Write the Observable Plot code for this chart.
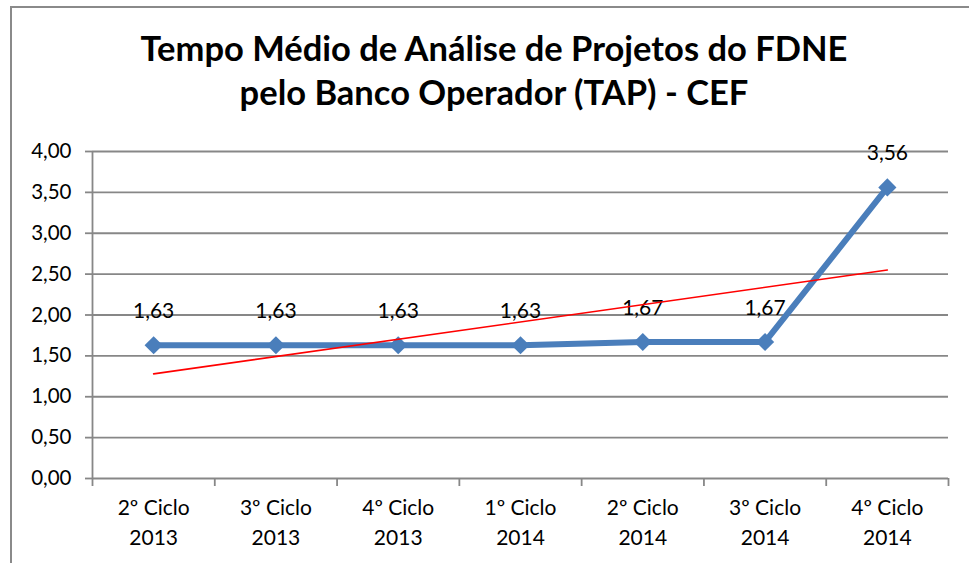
<!DOCTYPE html>
<html><head><meta charset="utf-8">
<script src="https://cdn.jsdelivr.net/npm/d3@7"></script>
<script src="https://cdn.jsdelivr.net/npm/@observablehq/plot@0.6"></script>
<style>
body{margin:0;background:#fff;}
#wrap{position:relative;width:969px;height:563px;overflow:hidden;font-family:Lato,"Open Sans",sans-serif;background:#fff}
#frame{position:absolute;left:10px;top:6px;width:990px;height:620px;border-left:2px solid #8a8a8a;border-top:2px solid #8a8a8a;box-sizing:border-box}
#title{position:absolute;left:0;top:26px;width:988px;text-align:center;font-weight:bold;font-size:34.5px;line-height:44px;color:#000;z-index:2}
#chart{position:absolute;left:0;top:0;z-index:1}
</style>
</head><body>
<div id="wrap">
  <div id="frame"></div>
  <div id="chart"></div>
  <div id="title">Tempo Médio de Análise de Projetos do FDNE<br>pelo Banco Operador (TAP) - CEF</div>
</div>
<script>
const categories = ["2º Ciclo\n2013","3º Ciclo\n2013","4º Ciclo\n2013","1º Ciclo\n2014","2º Ciclo\n2014","3º Ciclo\n2014","4º Ciclo\n2014"];
const values = [1.63, 1.63, 1.63, 1.63, 1.67, 1.67, 3.56];
const yTicks = [0, 0.5, 1, 1.5, 2, 2.5, 3, 3.5, 4];
const trendPositions = [0, 6];
const trendValues = [1.28, 2.55];

const fmt = v => d3.format(".2f")(v).replace(".", ",");
const idx = categories.map((_, i) => i);
const bounds = d3.range(categories.length + 1).map(i => i - 0.5);
const series = values.map((v, i) => ({i, v}));
const trend = trendPositions.map((p, k) => ({p, v: trendValues[k]}));

const chart = Plot.plot({
  width: 969, height: 563,
  marginTop: 151, marginBottom: 85, marginLeft: 92, marginRight: 21,
  style: {fontFamily: "Lato, 'Open Sans', sans-serif", fontSize: "20px", color: "#000", background: "transparent", overflow: "visible"},
  x: {type: "linear", domain: [-0.5, categories.length - 0.5], axis: null},
  y: {domain: [0, 4], axis: null},
  marks: [
    Plot.ruleY(yTicks, {stroke: "#878787", strokeWidth: 1.8, strokeOpacity: 1}),
    Plot.ruleX([-0.5], {y1: 0, y2: 4, stroke: "#878787", strokeWidth: 1.8}),
    Plot.axisY({ticks: yTicks, label: null, tickSize: 7, tickPadding: 14, tickFormat: fmt, stroke: "#878787", strokeWidth: 1.8, strokeOpacity: 1, fontSize: 20.5, fill: "#000"}),
    Plot.axisX({ticks: bounds, label: null, tickSize: 8, tickFormat: () => "", stroke: "#878787", strokeWidth: 1.8, strokeOpacity: 1}),
    Plot.axisX({ticks: idx, label: null, tickSize: 0, tickPadding: 16, tickFormat: i => categories[i], fontSize: 21, lineHeight: 1.4, fill: "#000"}),
    Plot.line(series, {x: "i", y: "v", stroke: "#4A7EBB", strokeWidth: 6, strokeLinejoin: "round"}),
    Plot.dot(series, {x: "i", y: "v", symbol: "diamond2", r: 8.2, fill: "#4A7EBB", stroke: "none"}),
    Plot.text(series, {x: "i", y: "v", text: d => fmt(d.v), dy: -34, fontSize: 21, fill: "#000"}),
    Plot.line(trend, {x: "p", y: "v", stroke: "#ff0000", strokeWidth: 1.6})
  ]
});
document.getElementById("chart").appendChild(chart);
</script>
</body></html>
